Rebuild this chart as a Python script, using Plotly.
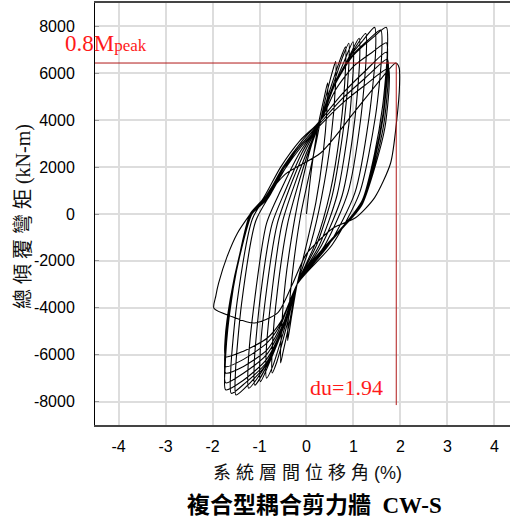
import plotly.graph_objects as go

# ---- data (drift ratio %, overturning moment kN-m) ----
c00_x = [0.0]
c00_y = [0]
c01_x = [0.10, 0.25, 0.38, 0.45, 0.44, 0.35, 0.20, 0.00, -0.20, -0.32, -0.40, -0.38, -0.28, -0.12, 0.05, 0.20, 0.30]
c01_y = [1800, 3800, 5000, 5600, 4600, 2500, 500, -1300, -3000, -4400, -5400, -4300, -2200, 0, 1600, 3000, 4000]
c02_x = [0.45, 0.57, 0.62, 0.62, 0.52, 0.32, 0.10, -0.20, -0.38, -0.50, -0.55, -0.54, -0.45, -0.25, -0.10, 0.10, 0.30]
c02_y = [5300, 6200, 6500, 5600, 3200, 700, -1200, -3000, -4800, -5900, -6350, -5300, -2900, -200, 1300, 2900, 4000]
c03_x = [0.50, 0.70, 0.83, 0.83, 0.72, 0.50, 0.20, -0.20, -0.45, -0.63, -0.73, -0.73, -0.62, -0.40, -0.20, 0.05, 0.30]
c03_y = [5300, 6500, 7130, 6200, 3600, 900, -1200, -3000, -5000, -6300, -6780, -5800, -3300, -400, 1100, 2700, 4000]
c04_x = [0.55, 0.77, 0.90, 0.90, 0.79, 0.55, 0.22, -0.20, -0.50, -0.72, -0.85, -0.86, -0.74, -0.52, -0.30, 0.00, 0.30]
c04_y = [5400, 6700, 7280, 6300, 3700, 800, -1300, -3000, -5100, -6500, -7000, -6000, -3400, -400, 1000, 2600, 4000]
c05_x = [0.55, 0.80, 0.99, 1.00, 0.90, 0.65, 0.28, -0.20, -0.50, -0.78, -0.98, -0.99, -0.86, -0.62, -0.38, -0.05, 0.30]
c05_y = [5300, 6500, 7350, 6400, 3800, 800, -1300, -3000, -4900, -6300, -7150, -6100, -3400, -400, 1000, 2600, 4000]
c06_x = [0.60, 0.88, 1.12, 1.13, 1.02, 0.76, 0.33, -0.20, -0.50, -0.80, -1.10, -1.11, -0.98, -0.73, -0.45, -0.10, 0.30]
c06_y = [5500, 6600, 7500, 6500, 3900, 800, -1300, -3000, -4800, -6300, -7300, -6300, -3500, -400, 1000, 2600, 4000]
c07_x = [0.60, 0.90, 1.26, 1.27, 1.15, 0.88, 0.40, -0.20, -0.50, -0.82, -1.23, -1.24, -1.10, -0.85, -0.55, -0.15, 0.30]
c07_y = [5500, 6650, 7700, 6700, 4000, 900, -1300, -3000, -4800, -6300, -7430, -6400, -3600, -400, 1000, 2600, 4000]
c08_x = [0.60, 0.92, 1.20, 1.45, 1.47, 1.33, 1.03, 0.48, -0.20, -0.50, -0.82, -1.20, -1.50, -1.51, -1.38, -1.08, -0.75, -0.25, 0.30]
c08_y = [5500, 6700, 7400, 7960, 6900, 4100, 900, -1300, -3000, -4800, -6300, -7200, -7720, -6700, -3800, -300, 900, 2600, 4000]
c09_x = [0.60, 0.95, 1.30, 1.58, 1.60, 1.47, 1.13, 0.55, -0.20, -0.50, -0.84, -1.30, -1.60, -1.61, -1.48, -1.15, -0.85, -0.30, 0.30]
c09_y = [5500, 6700, 7400, 7850, 6800, 4200, 900, -1300, -3000, -4800, -6300, -7200, -7650, -6600, -3800, -200, 800, 2500, 4000]
c10_x = [0.60, 0.97, 1.40, 1.70, 1.72, 1.62, 1.45, 1.19, 0.72, 0.19, -0.20, -0.50, -0.85, -1.35, -1.72, -1.73, -1.64, -1.45, -1.20, -0.94, -0.55, -0.13, 0.30]
c10_y = [5500, 6700, 7500, 7960, 6900, 4600, 2600, 600, -700, -1950, -3000, -4800, -6200, -7100, -7500, -6500, -4300, -2000, 0, 600, 2000, 3150, 4000]
c11_x = [0.62, 1.00, 1.40, 1.70, 1.72, 1.63, 1.45, 1.17, 0.70, 0.17, -0.20, -0.50, -0.85, -1.35, -1.72, -1.73, -1.63, -1.44, -1.18, -0.90, -0.50, -0.10, 0.30]
c11_y = [5300, 6300, 6900, 7300, 6400, 4300, 2400, 500, -700, -1950, -3000, -4700, -6000, -6800, -7200, -6200, -4100, -1900, 0, 600, 2000, 3100, 4000]
c12_x = [0.75, 1.25, 1.70, 1.72, 1.63, 1.45, 1.16, 0.70, 0.15, -0.20, -0.60, -0.84, -1.34, -1.72, -1.73, -1.62, -1.42, -1.16, -0.88, -0.50, -0.10, 0.30]
c12_y = [5100, 6100, 6900, 6000, 4100, 2300, 450, -700, -1950, -3000, -5000, -5800, -6500, -6780, -5900, -3900, -1800, 0, 600, 1900, 3000, 3900]
c13_x = [0.75, 1.25, 1.72, 1.74, 1.65, 1.46, 1.16, 0.70, 0.15, -0.20, -0.58, -0.84, -1.34, -1.72, -1.73, -1.62, -1.42, -1.16, -0.88, -0.50, -0.10, 0.30]
c13_y = [4900, 5800, 6600, 5800, 3900, 2200, 400, -700, -1950, -3000, -4800, -5500, -6200, -6510, -5700, -3800, -1800, 0, 550, 1800, 2900, 3800]
c14_x = [0.75, 1.25, 1.74, 1.76, 1.67, 1.47, 1.17, 0.70, 0.15, -0.20, -0.55, -0.84, -1.34, -1.72, -1.73, -1.62, -1.42, -1.17, -0.92, -0.45, 0.30]
c14_y = [4700, 5500, 6200, 5500, 3700, 2100, 350, -750, -1950, -3000, -4600, -5300, -5850, -6085, -5300, -3600, -1700, 0, 600, 1700, 2600]
final_x = [1.00, 1.60, 1.90, 1.97, 1.98, 1.92, 1.79, 1.45, 1.05, 0.57, 0.00, -0.30, -0.62, -1.12, -1.58, -1.97, -1.93, -1.87, -1.69, -1.47, -1.21]
final_y = [4300, 5800, 6440, 6250, 5500, 4000, 2175, 700, -150, -600, -1700, -3000, -4230, -4650, -4380, -4020, -3500, -2950, -1820, -820, -40]

cycles_x = [c00_x, c01_x, c02_x, c03_x, c04_x, c05_x, c06_x, c07_x, c08_x, c09_x,
            c10_x, c11_x, c12_x, c13_x, c14_x, final_x]
cycles_y = [c00_y, c01_y, c02_y, c03_y, c04_y, c05_y, c06_y, c07_y, c08_y, c09_y,
            c10_y, c11_y, c12_y, c13_y, c14_y, final_y]

m_peak_08 = 6440      # 0.8 Mpeak (kN-m)
du = 1.91             # ultimate drift line position (%)
du_line_bottom = -8150
x_left = -4.5

x_ticks = [-4, -3, -2, -1, 0, 1, 2, 3, 4]
y_ticks = [-8000, -6000, -4000, -2000, 0, 2000, 4000, 6000, 8000]

path_x = [v for c in cycles_x for v in c]
path_y = [v for c in cycles_y for v in c]

fig = go.Figure()
fig.add_trace(go.Scatter(
    x=path_x, y=path_y, mode="lines",
    line=dict(color="black", width=1.1, shape="spline", smoothing=0.7),
    hoverinfo="skip", showlegend=False))
fig.add_trace(go.Scatter(
    x=[x_left, du, du], y=[m_peak_08, m_peak_08, du_line_bottom], mode="lines",
    line=dict(color="#b01818", width=1), hoverinfo="skip", showlegend=False))

fig.update_layout(
    width=510, height=521, autosize=False,
    margin=dict(l=95, r=0, t=3, b=96, autoexpand=False),
    paper_bgcolor="white", plot_bgcolor="white",
    font=dict(family="Liberation Sans, Arial, sans-serif", size=16, color="black"),
    xaxis=dict(range=[-4.5, 4.33], tickvals=x_ticks, ticktext=[str(v) for v in x_ticks],
               showgrid=True, gridcolor="#dddddd", gridwidth=1.5, zeroline=False,
               showline=True, linecolor="#444444", linewidth=1.5, mirror=True,
               ticks="", ticklabelstandoff=6, tickfont=dict(size=16), automargin=False),
    yaxis=dict(range=[-9000, 9000], tickvals=y_ticks, ticktext=[str(v) for v in y_ticks],
               showgrid=True, gridcolor="#dddddd", gridwidth=1.5, zeroline=False,
               showline=True, linecolor="black", linewidth=1, mirror=False,
               ticks="inside", ticklen=4, tickcolor="#999999",
               ticklabelstandoff=16, tickfont=dict(size=16), automargin=False),
    annotations=[
        dict(text="0.8M<span style='font-size:17px'>peak</span>", xref="paper", yref="paper",
             x=-0.077, y=0.903, xanchor="left", yanchor="middle", showarrow=False,
             font=dict(family="Liberation Serif, Times New Roman, serif", size=23, color="#ff1a1a")),
        dict(text="du=1.94", xref="x", yref="y", x=0.85, y=-7380,
             xanchor="center", yanchor="middle", showarrow=False,
             font=dict(family="Liberation Serif, Times New Roman, serif", size=22, color="#ff1a1a")),
        dict(text="系 統 層 間 位 移 角 (%)", xref="paper", yref="paper", x=0.513, y=-0.114,
             xanchor="center", yanchor="middle", showarrow=False,
             font=dict(family="Liberation Sans, Noto Sans CJK TC, sans-serif", size=18, color="#111111")),
        dict(text="總 傾 覆 彎 矩 (kN-m)", xref="paper", yref="paper", x=-0.1735, y=0.495,
             xanchor="center", yanchor="middle", showarrow=False, textangle=-90,
             font=dict(family="Liberation Serif, Noto Sans CJK TC, serif", size=20, color="#111111")),
        dict(text="<b>複合型耦合剪力牆  CW-S</b>", xref="paper", yref="paper", x=0.528, y=-0.19,
             xanchor="center", yanchor="middle", showarrow=False,
             font=dict(family="Liberation Serif, Noto Sans CJK TC, serif", size=23, color="black")),
    ],
)

fig.write_html("out.html", config={"displayModeBar": False},
               post_script="document.body.style.margin='0px';")
